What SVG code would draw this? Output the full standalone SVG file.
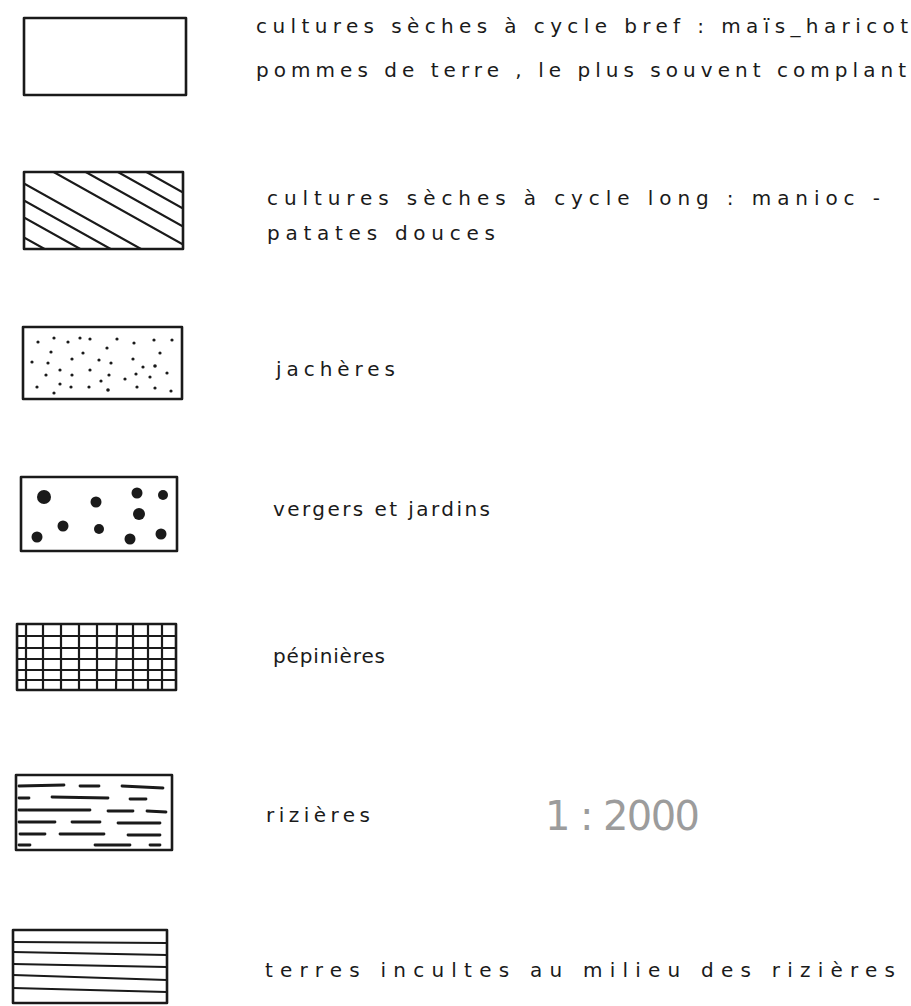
<svg xmlns="http://www.w3.org/2000/svg" width="911" height="1006" viewBox="0 0 911 1006">
<style>
.box{fill:none;stroke:#1a1a1a;stroke-width:2.6;stroke-linejoin:round}
.ln{stroke:#1a1a1a;stroke-width:2.2;stroke-linecap:round;fill:none}
.dash{stroke:#1a1a1a;stroke-width:2.8;stroke-linecap:round}
.dot{fill:#1a1a1a}
.t{font-family:"DejaVu Sans","Liberation Sans",sans-serif;font-size:20px;fill:#1a1a1a}
.scale{font-family:"DejaVu Sans","Liberation Sans",sans-serif;font-size:40px;fill:#9c9c9c;font-weight:normal}
</style>
<defs>
<clipPath id="c2"><rect x="24" y="172" width="159" height="77"/></clipPath>
</defs>
<rect width="911" height="1006" fill="#fff"/>

<g id="legend-cycle-bref">
<rect class="box" x="24" y="18" width="162" height="77"/>
<text class="t" x="256" y="33" textLength="652" lengthAdjust="spacing">cultures sèches à cycle bref : maïs_haricot</text>
<text class="t" x="256" y="77" textLength="650" lengthAdjust="spacing">pommes de terre , le plus souvent complant</text>
</g>

<g id="legend-cycle-long">
<g clip-path="url(#c2)" class="ln">
<line x1="0" y1="90" x2="300" y2="258"/>
<line x1="0" y1="106" x2="300" y2="274"/>
<line x1="0" y1="124" x2="300" y2="292"/>
<line x1="0" y1="142" x2="300" y2="310"/>
<line x1="0" y1="170" x2="300" y2="338"/>
<line x1="0" y1="187" x2="300" y2="355"/>
<line x1="0" y1="204" x2="300" y2="372"/>
<line x1="0" y1="224" x2="300" y2="392"/>
</g>
<rect class="box" x="24" y="172" width="159" height="77"/>
<text class="t" x="267" y="205" textLength="613" lengthAdjust="spacing">cultures sèches à cycle long : manioc -</text>
<text class="t" x="267" y="240" textLength="228" lengthAdjust="spacing">patates douces</text>
</g>

<g id="legend-jacheres">
<rect class="box" x="23" y="327" width="159" height="72"/>
<g class="dot">
<circle cx="38" cy="342" r="1.6"/><circle cx="54" cy="338" r="1.6"/><circle cx="68" cy="342" r="1.6"/><circle cx="80" cy="338" r="1.6"/><circle cx="90" cy="339" r="1.6"/><circle cx="117" cy="339" r="1.6"/><circle cx="134" cy="343" r="1.6"/><circle cx="154" cy="340" r="1.6"/><circle cx="172" cy="340" r="1.6"/>
<circle cx="51" cy="352" r="1.6"/><circle cx="83" cy="353" r="1.6"/><circle cx="107" cy="348" r="1.6"/><circle cx="160" cy="353" r="1.6"/>
<circle cx="32" cy="362" r="1.6"/><circle cx="48" cy="363" r="1.6"/><circle cx="72" cy="359" r="1.6"/><circle cx="99" cy="360" r="1.6"/><circle cx="111" cy="363" r="1.6"/><circle cx="133" cy="359" r="1.6"/><circle cx="143" cy="367" r="1.6"/><circle cx="155" cy="366" r="1.8"/>
<circle cx="60" cy="370" r="1.6"/><circle cx="90" cy="370" r="1.6"/><circle cx="46" cy="375" r="1.6"/><circle cx="72" cy="375" r="1.6"/><circle cx="109" cy="375" r="1.6"/><circle cx="136" cy="374" r="1.6"/><circle cx="150" cy="377" r="1.6"/><circle cx="167" cy="373" r="1.6"/><circle cx="125" cy="379" r="1.6"/><circle cx="101" cy="381" r="1.6"/>
<circle cx="37" cy="387" r="1.6"/><circle cx="60" cy="384" r="1.6"/><circle cx="71" cy="387" r="1.6"/><circle cx="89" cy="387" r="1.6"/><circle cx="108" cy="390" r="1.8"/><circle cx="137" cy="387" r="1.6"/><circle cx="155" cy="388" r="1.6"/><circle cx="171" cy="391" r="1.6"/><circle cx="54" cy="393" r="1.6"/>
</g>
<text class="t" x="276" y="376" textLength="119" lengthAdjust="spacing">jachères</text>
</g>

<g id="legend-vergers">
<rect class="box" x="21" y="477" width="156" height="74"/>
<g class="dot">
<circle cx="44" cy="497" r="7"/><circle cx="96" cy="502" r="5.5"/><circle cx="137" cy="493" r="5.5"/><circle cx="163" cy="495" r="5"/>
<circle cx="139" cy="514" r="6"/><circle cx="63" cy="526" r="5.5"/><circle cx="37" cy="537" r="5.5"/><circle cx="99" cy="529" r="5"/><circle cx="130" cy="539" r="5.5"/><circle cx="161" cy="534" r="5.5"/>
</g>
<text class="t" x="273" y="516" textLength="217" lengthAdjust="spacing">vergers et jardins</text>
</g>

<g id="legend-pepinieres">
<g class="ln" stroke-width="2">
<line x1="26" y1="624" x2="26" y2="690"/><line x1="43" y1="624" x2="43" y2="690"/><line x1="61" y1="624" x2="61" y2="690"/><line x1="79" y1="624" x2="79" y2="690"/><line x1="97" y1="624" x2="97" y2="690"/><line x1="117" y1="624" x2="116" y2="690"/><line x1="133" y1="624" x2="133" y2="690"/><line x1="148" y1="624" x2="148" y2="690"/><line x1="162" y1="624" x2="162" y2="690"/>
<line x1="17" y1="636" x2="176" y2="636"/><line x1="17" y1="648" x2="176" y2="648"/><line x1="17" y1="659" x2="176" y2="659"/><line x1="17" y1="670" x2="176" y2="670"/><line x1="17" y1="680" x2="176" y2="680"/>
</g>
<rect class="box" x="17" y="624" width="159" height="66"/>
<text class="t" x="273" y="663" textLength="112" lengthAdjust="spacing">pépinières</text>
</g>

<g id="legend-rizieres">
<rect class="box" x="16" y="775" width="156" height="75"/>
<g class="dash">
<line x1="19" y1="786" x2="64" y2="785"/><line x1="80" y1="786" x2="99" y2="786"/><line x1="122" y1="786" x2="163" y2="788"/>
<line x1="19" y1="798" x2="29" y2="798"/><line x1="52" y1="797" x2="108" y2="798"/><line x1="130" y1="799" x2="146" y2="799"/>
<line x1="19" y1="810" x2="90" y2="810"/><line x1="108" y1="811" x2="133" y2="811"/><line x1="147" y1="811" x2="166" y2="812"/>
<line x1="19" y1="822" x2="55" y2="822"/><line x1="72" y1="822" x2="100" y2="822"/><line x1="118" y1="823" x2="160" y2="823"/>
<line x1="20" y1="834" x2="45" y2="834"/><line x1="60" y1="834" x2="104" y2="834"/><line x1="128" y1="835" x2="160" y2="835"/>
<line x1="19" y1="845" x2="30" y2="845"/><line x1="95" y1="845" x2="130" y2="845"/><line x1="150" y1="845" x2="160" y2="845"/>
</g>
<text class="t" x="266" y="822" textLength="104" lengthAdjust="spacing">rizières</text>
</g>

<g id="scale">
<text class="scale" x="545" y="830" textLength="155" lengthAdjust="spacing">1 : 2000</text>
</g>

<g id="legend-terres-incultes">
<g class="ln">
<line x1="13" y1="942" x2="167" y2="943"/><line x1="13" y1="952" x2="167" y2="955"/><line x1="13" y1="964" x2="167" y2="967"/><line x1="13" y1="975" x2="167" y2="980"/><line x1="13" y1="988" x2="167" y2="992"/>
</g>
<rect class="box" x="13" y="930" width="154" height="73"/>
<text class="t" x="265" y="977" textLength="630" lengthAdjust="spacing">terres incultes au milieu des rizières</text>
</g>

<g id="connectors"/>
</svg>
